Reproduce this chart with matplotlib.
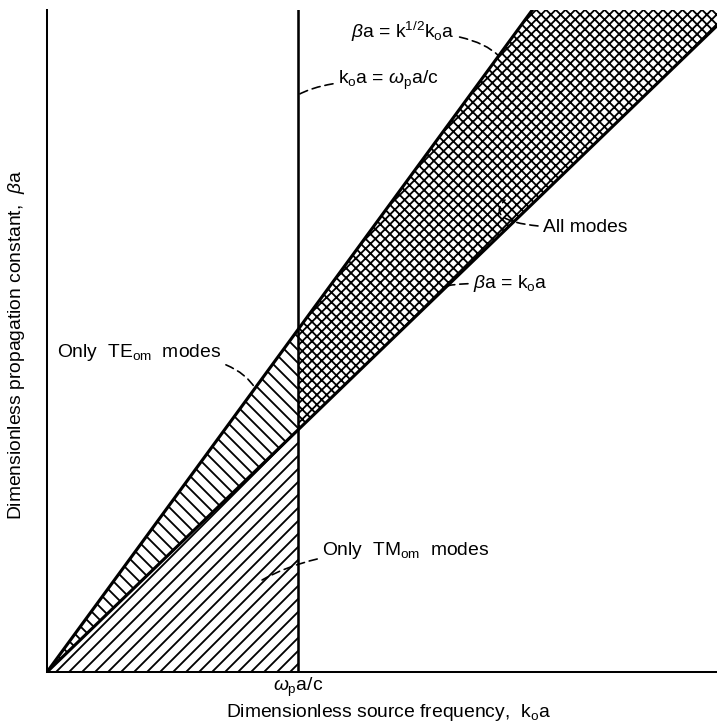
import numpy as np
import matplotlib
matplotlib.use("Agg")
import matplotlib.pyplot as plt

DPI = 117
pt = 132 / DPI  # keeps text and line sizes fixed in pixels

plt.rcParams['font.family'] = ['Liberation Sans', 'DejaVu Sans']
plt.rcParams['mathtext.fontset'] = 'custom'
plt.rcParams['mathtext.rm'] = 'Liberation Sans'
plt.rcParams['mathtext.it'] = 'Liberation Sans:italic'
plt.rcParams['hatch.linewidth'] = 1.0 * pt

# normalised so that omega_p a / c = 1
cutoff = 1.0
k_dielectric = 2.0
root_k = np.sqrt(k_dielectric)
x_max = 2.67
y_max = 2.735

ko_full = np.array([0.0, x_max])
ko_below = np.array([0.0, cutoff])
ko_above = np.array([cutoff, x_max])

fs = 10.5 * pt
fig = plt.figure(figsize=(717 / DPI, 726 / DPI), dpi=DPI)
ax = fig.add_axes([47 / 717, 54 / 726, 670 / 717, 662 / 726])

# mode regions
ax.fill_between(ko_below, ko_below, root_k * ko_below, facecolor='none',
                edgecolor='k', linewidth=0, hatch='\\' * 3)
ax.fill_between(ko_below, 0, ko_below, facecolor='none',
                edgecolor='k', linewidth=0, hatch='/' * 3)
ax.fill_between(ko_above, ko_above, root_k * ko_above, facecolor='none',
                edgecolor='k', linewidth=0, hatch='x' * 4)

# boundaries
ax.plot(ko_full, ko_full, color='k', lw=1.7 * pt, solid_capstyle='butt')
ax.plot(ko_full, root_k * ko_full, color='k', lw=1.7 * pt, solid_capstyle='butt')
ax.axvline(cutoff, color='k', lw=1.4 * pt)

ax.set_xlim(0, x_max)
ax.set_ylim(0, y_max)
for side in ('top', 'right'):
    ax.spines[side].set_visible(False)
for side in ('left', 'bottom'):
    ax.spines[side].set_linewidth(1.1 * pt)
ax.set_yticks([])
ax.set_xticks([cutoff])
ax.set_xticklabels([r'$\omega_{\rm p}$a/c'], fontsize=fs)
ax.tick_params(axis='x', length=0, pad=2 * pt)

ax.set_xlabel(r'Dimensionless source frequency,  k$_{\rm o}$a', fontsize=fs)
ax.xaxis.set_label_coords(0.509, -0.045)
ax.set_ylabel(r'Dimensionless propagation constant,  $\beta$a', fontsize=fs)
ax.yaxis.set_label_coords(-0.030, 0.494)

lead = dict(arrowstyle='-', color='k', lw=0.9 * pt, linestyle=(0, (5, 3)),
            shrinkA=1, shrinkB=0)

ax.annotate(r'$\beta$a = k$^{\rm 1/2}$k$_{\rm o}$a', xy=(1.80, root_k * 1.80),
            xytext=(1.625, 2.645), ha='right', va='center', fontsize=fs,
            arrowprops=dict(lead, connectionstyle='angle3,angleA=0,angleB=-45'))
ax.annotate(r'k$_{\rm o}$a = $\omega_{\rm p}$a/c', xy=(cutoff, 2.384),
            xytext=(1.159, 2.446), ha='left', va='center', fontsize=fs,
            arrowprops=dict(lead, connectionstyle='angle3,angleA=180,angleB=30'))
ax.annotate('All modes', xy=(1.825, 1.950),
            xytext=(1.976, 1.835), ha='left', va='center', fontsize=fs,
            arrowprops=dict(lead, connectionstyle='angle3,angleA=180,angleB=45'))
ax.annotate(r'$\beta$a = k$_{\rm o}$a', xy=(1.594, 1.594),
            xytext=(1.697, 1.607), ha='left', va='center', fontsize=fs,
            arrowprops=dict(lead, connectionstyle='angle3,angleA=180,angleB=30'))
ax.annotate(r'Only  TE$_{\rm om}$  modes', xy=(0.829, root_k * 0.829),
            xytext=(0.040, 1.322), ha='left', va='center', fontsize=fs,
            arrowprops=dict(lead, connectionstyle='angle3,angleA=0,angleB=-60'))
ax.annotate(r'Only  TM$_{\rm om}$  modes', xy=(0.857, 0.380),
            xytext=(1.096, 0.504), ha='left', va='center', fontsize=fs,
            arrowprops=dict(lead, connectionstyle='angle3,angleA=180,angleB=30'))

fig.savefig('out.png', dpi=DPI)
